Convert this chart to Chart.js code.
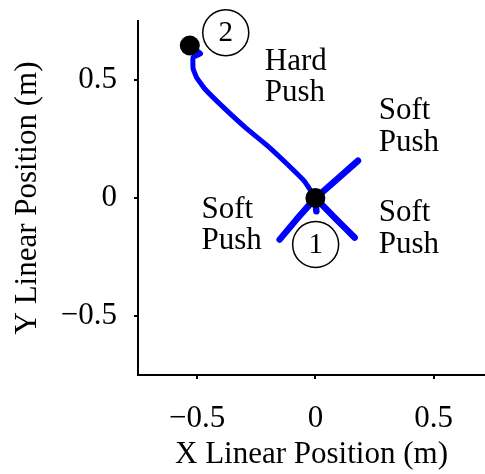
<!DOCTYPE html>
<html>
<head>
<meta charset="utf-8">
<script src="https://cdn.jsdelivr.net/npm/chart.js@4"></script>
<style>
  html, body { margin: 0; padding: 0; background: #fff; overflow: hidden; }
  #chart { display: block; }
</style>
</head>
<body>
<canvas id="chart" width="485" height="474"></canvas>
<script>
// Trajectory data (metres)
const hardPushX = [-0.531, -0.485, -0.517, -0.517, -0.503, -0.468, -0.391, -0.292, -0.207, -0.123, -0.046, 0];
const hardPushY = [0.646, 0.612, 0.596, 0.548, 0.512, 0.463, 0.386, 0.295, 0.225, 0.147, 0.070, 0];

const softUpRightX = [0, 0.089, 0.180];
const softUpRightY = [0, 0.077, 0.158];

const softLowLeftX = [0, -0.080, -0.151];
const softLowLeftY = [0, -0.091, -0.176];

const softLowRightX = [0, 0.089, 0.166];
const softLowRightY = [0, -0.091, -0.168];

const softDownX = [0, 0.004];
const softDownY = [0, -0.056];

// Start / end markers
const markerX = [0, -0.531];
const markerY = [0, 0.646];

const xTicks = [-0.5, 0, 0.5];
const yTicks = [-0.5, 0, 0.5];

// Text labels and numbered circles (data coordinates)
const textLabels = [
  { x: -0.214, y: 0.543, lines: ['Hard', 'Push'] },
  { x: 0.268, y: 0.333, lines: ['Soft', 'Push'] },
  { x: -0.482, y: -0.084, lines: ['Soft', 'Push'] },
  { x: 0.268, y: -0.099, lines: ['Soft', 'Push'] }
];
const circleLabels = [
  { x: -0.379, y: 0.700, text: '2' },
  { x: 0.001, y: -0.197, text: '1' }
];

const FONT = '"Liberation Serif", "Times New Roman", serif';
const BLUE = '#0000ff';

function toPoints(xs, ys) {
  return xs.map((x, i) => ({ x: x, y: ys[i] }));
}

function lineSet(xs, ys, width) {
  return {
    data: toPoints(xs, ys),
    showLine: true,
    borderColor: BLUE,
    borderWidth: width,
    borderCapStyle: 'round',
    borderJoinStyle: 'round',
    pointRadius: 0,
    tension: 0.1,
    order: 2
  };
}

function fmt(v) {
  if (v === 0) return '0';
  return String(v).replace('-', '\u2212');
}

function noPadding(s) {
  s.paddingTop = 0;
  s.paddingBottom = 0;
  s.paddingLeft = 0;
  s.paddingRight = 0;
}

// Draws the annotations on top of the data
const annotationPlugin = {
  id: 'annotations',
  afterDatasetsDraw(chart) {
    const ctx = chart.ctx;
    const xs = chart.scales.x;
    const ys = chart.scales.y;
    ctx.save();
    ctx.fillStyle = '#000';
    textLabels.forEach(l => {
      const px = xs.getPixelForValue(l.x);
      const py = ys.getPixelForValue(l.y);
      ctx.font = '31px ' + FONT;
      ctx.textAlign = 'left';
      ctx.textBaseline = 'alphabetic';
      l.lines.forEach((t, i) => ctx.fillText(t, px, py + i * 31.5));
    });
    circleLabels.forEach(c => {
      const px = xs.getPixelForValue(c.x);
      const py = ys.getPixelForValue(c.y);
      ctx.beginPath();
      ctx.arc(px, py, 23, 0, Math.PI * 2);
      ctx.strokeStyle = '#000';
      ctx.lineWidth = 1.5;
      ctx.stroke();
      ctx.font = '29px ' + FONT;
      ctx.textAlign = 'center';
      ctx.textBaseline = 'middle';
      ctx.fillText(c.text, px, py + 1);
    });
    ctx.restore();
  }
};

const ctx = document.getElementById('chart').getContext('2d');
const chart = new Chart(ctx, {
  type: 'scatter',
  data: {
    datasets: [
      {
        data: toPoints(markerX, markerY),
        pointRadius: 10,
        pointBackgroundColor: '#000',
        pointBorderColor: '#000',
        pointBorderWidth: 0,
        order: 1
      },
      lineSet(hardPushX, hardPushY, 5),
      lineSet(softUpRightX, softUpRightY, 6.5),
      lineSet(softLowLeftX, softLowLeftY, 6.5),
      lineSet(softLowRightX, softLowRightY, 6.5),
      lineSet(softDownX, softDownY, 6.5)
    ]
  },
  options: {
    responsive: false,
    animation: false,
    clip: false,
    layout: { autoPadding: false, padding: { top: 21, right: 0, left: 0, bottom: 0 } },
    plugins: {
      legend: { display: false },
      tooltip: { enabled: false }
    },
    scales: {
      x: {
        type: 'linear',
        min: -0.75,
        max: 0.717,
        afterBuildTicks: s => { s.ticks = xTicks.map(v => ({ value: v })); },
        afterFit: s => { s.height = 99; noPadding(s); },
        grid: { drawOnChartArea: false, drawTicks: true, tickLength: 4, color: '#000', lineWidth: 2 },
        border: { display: true, color: '#000', width: 2 },
        ticks: {
          color: '#000',
          padding: 21,
          maxRotation: 0,
          font: { family: FONT, size: 31 },
          callback: v => fmt(v)
        },
        title: {
          display: true,
          text: 'X Linear Position (m)',
          color: '#000',
          font: { family: FONT, size: 31, lineHeight: 1 },
          padding: { top: 0, bottom: 4 }
        }
      },
      y: {
        type: 'linear',
        min: -0.75,
        max: 0.75,
        afterBuildTicks: s => { s.ticks = yTicks.map(v => ({ value: v })); },
        afterFit: s => { s.width = 138; noPadding(s); },
        grid: { drawOnChartArea: false, drawTicks: true, tickLength: 4, color: '#000', lineWidth: 2 },
        border: { display: true, color: '#000', width: 2 },
        ticks: {
          color: '#000',
          padding: 17,
          font: { family: FONT, size: 31 },
          callback: v => fmt(v)
        },
        title: {
          display: true,
          text: 'Y Linear Position (m)',
          color: '#000',
          font: { family: FONT, size: 31, lineHeight: 1 },
          padding: { top: 12, bottom: 0 }
        }
      }
    }
  },
  plugins: [annotationPlugin]
});
</script>
</body>
</html>
